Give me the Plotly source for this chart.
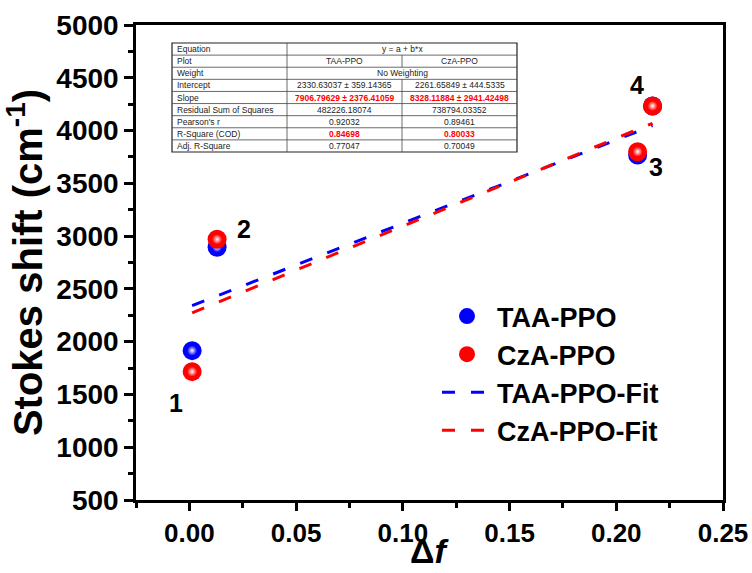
import plotly.graph_objects as go

# ---------------- data ----------------
taa_x = [0.0013, 0.0130, 0.2100, 0.2170]
taa_y = [1915, 2894, 3768, 4233]
cza_x = [0.0013, 0.0130, 0.2100, 0.2170]
cza_y = [1716, 2970, 3800, 4233]

taa_a, taa_b = 2330.63037, 7906.79629
cza_a, cza_b = 2261.65849, 8328.11884

point_labels = ["1", "2", "3", "4"]
label_x = [-0.0061, 0.0254, 0.2187, 0.2095]
label_y = [1422, 3071, 3652, 4432]

table_rows = ["Equation", "Plot", "Weight", "Intercept", "Slope",
              "Residual Sum of Squares", "Pearson's r", "R-Square (COD)", "Adj. R-Square"]
table_taa = ["y = a + b*x", "TAA-PPO", "No Weighting", "2330.63037 \u00b1 359.14365",
             "7906.79629 \u00b1 2376.41059", "482226.18074", "0.92032", "0.84698", "0.77047"]
table_cza = [None, "CzA-PPO", None, "2261.65849 \u00b1 444.5335",
             "8328.11884 \u00b1 2941.42498", "738794.03352", "0.89461", "0.80033", "0.70049"]
table_red = [False, False, False, False, True, False, False, True, False]

FONT = "Liberation Sans, Arial, sans-serif"
BLUE = "#0000ff"
RED = "#ff0000"

# fit lines spanning data range
def fit_line(xs, a, b):
    xx = [min(xs), max(xs)]
    return xx, [a + b * v for v in xx]

fig = go.Figure()

fx, fy = fit_line(taa_x, taa_a, taa_b)
fig.add_trace(go.Scatter(x=fx, y=fy, mode="lines", name="TAA-PPO-Fit",
                         line=dict(color=BLUE, width=3, dash="13px,16px"), legendrank=3))
fx, fy = fit_line(cza_x, cza_a, cza_b)
fig.add_trace(go.Scatter(x=fx, y=fy, mode="lines", name="CzA-PPO-Fit",
                         line=dict(color=RED, width=3, dash="13px,16px"), legendrank=4))

for xs, ys, col, nm, rk in [(taa_x, taa_y, BLUE, "TAA-PPO", 1), (cza_x, cza_y, RED, "CzA-PPO", 2)]:
    fig.add_trace(go.Scatter(x=xs, y=ys, mode="markers", name=nm, legendrank=rk,
                             marker=dict(size=19, color=col, line=dict(width=0),
                                         gradient=dict(type="radial", color=col))))
    fig.add_trace(go.Scatter(x=xs, y=ys, mode="markers", showlegend=False, hoverinfo="skip",
                             marker=dict(size=10, color=col, line=dict(width=0),
                                         gradient=dict(type="radial", color="#ffffff"))))

# point number labels
for t, lx, ly in zip(point_labels, label_x, label_y):
    fig.add_annotation(x=lx, y=ly, text="<b>%s</b>" % t, showarrow=False,
                       font=dict(family=FONT, size=25, color="black"))

# ---------------- inset table ----------------
L, R, T, B = 136, 723, 25, 500
def px(v):
    return (v - L) / (R - L)
def py(v):
    return (B - v) / (B - T)

tx0, tx1, ty0, ty1 = 172, 517, 43, 152
c1, c2 = 287, 402
nrow = len(table_rows)
rh = (ty1 - ty0) / nrow

shapes = []
shapes.append(dict(type="rect", xref="paper", yref="paper", x0=px(tx0), x1=px(tx1),
                   y0=py(ty1), y1=py(ty0), line=dict(color="#222222", width=1.2),
                   fillcolor="white", layer="above"))
for i in range(1, nrow):
    yy = py(ty0 + i * rh)
    shapes.append(dict(type="line", xref="paper", yref="paper", x0=px(tx0), x1=px(tx1),
                       y0=yy, y1=yy, line=dict(color="#444444", width=0.8), layer="above"))
shapes.append(dict(type="line", xref="paper", yref="paper", x0=px(c1), x1=px(c1),
                   y0=py(ty1), y1=py(ty0), line=dict(color="#444444", width=0.8), layer="above"))
for i in range(nrow):
    if table_cza[i] is not None:
        shapes.append(dict(type="line", xref="paper", yref="paper", x0=px(c2), x1=px(c2),
                           y0=py(ty0 + (i + 1) * rh), y1=py(ty0 + i * rh),
                           line=dict(color="#444444", width=0.8), layer="above"))

for i in range(nrow):
    yc = py(ty0 + (i + 0.5) * rh)
    fig.add_annotation(x=px(tx0 + 3), y=yc, xref="paper", yref="paper", xanchor="left",
                       yanchor="middle", text=table_rows[i], showarrow=False,
                       font=dict(family=FONT, size=8.5, color="#222222"))
    col = RED if table_red[i] else "#222222"
    def fmt(s):
        return "<b>%s</b>" % s if table_red[i] else s
    if table_cza[i] is None:
        fig.add_annotation(x=px((c1 + tx1) / 2), y=yc, xref="paper", yref="paper",
                           xanchor="center", yanchor="middle", text=fmt(table_taa[i]),
                           showarrow=False, font=dict(family=FONT, size=8.5, color=col))
    else:
        fig.add_annotation(x=px((c1 + c2) / 2), y=yc, xref="paper", yref="paper",
                           xanchor="center", yanchor="middle", text=fmt(table_taa[i]),
                           showarrow=False, font=dict(family=FONT, size=8.5, color=col))
        fig.add_annotation(x=px((c2 + tx1) / 2), y=yc, xref="paper", yref="paper",
                           xanchor="center", yanchor="middle", text=fmt(table_cza[i]),
                           showarrow=False, font=dict(family=FONT, size=8.5, color=col))

# x-axis title placed as annotation under the tick labels
fig.add_annotation(x=px(430), y=py(551), xref="paper", yref="paper", xanchor="center",
                   yanchor="middle", text="<b>\u0394<i>f</i></b>", showarrow=False,
                   font=dict(family=FONT, size=34, color="black"))

axis_common = dict(showline=True, linecolor="black", linewidth=2.5, mirror=True,
                   ticks="outside", tickwidth=2.5, tickcolor="black",
                   showgrid=False, zeroline=False, automargin=False)

fig.update_layout(
    width=752, height=573,
    margin=dict(l=L, r=752 - R, t=T, b=573 - B),
    paper_bgcolor="white", plot_bgcolor="white",
    shapes=shapes,
    showlegend=True,
    legend=dict(x=px(437), y=py(292), xanchor="left", yanchor="top",
                font=dict(family=FONT, size=27, color="black", weight="bold"),
                bgcolor="rgba(0,0,0,0)", itemwidth=50, tracegroupgap=0),
    xaxis=dict(range=[-0.025, 0.25], dtick=0.05, tick0=0, tickformat=".2f", ticklen=8,
               tickfont=dict(family=FONT, size=26, color="black", weight="bold"),
               minor=dict(dtick=0.025, ticks="outside", ticklen=5, tickwidth=2.5, tickcolor="black"),
               **axis_common),
    yaxis=dict(range=[500, 5000], dtick=500, tick0=0, ticklen=9,
               tickfont=dict(family=FONT, size=28, color="black", weight="bold"),
               minor=dict(dtick=250, ticks="outside", ticklen=5, tickwidth=2.5, tickcolor="black"),
               title=dict(text="Stokes shift (cm<sup>-1</sup>)", standoff=4,
                          font=dict(family=FONT, size=40, color="black", weight="bold")),
               **axis_common),
)

fig.write_html("out.html")
